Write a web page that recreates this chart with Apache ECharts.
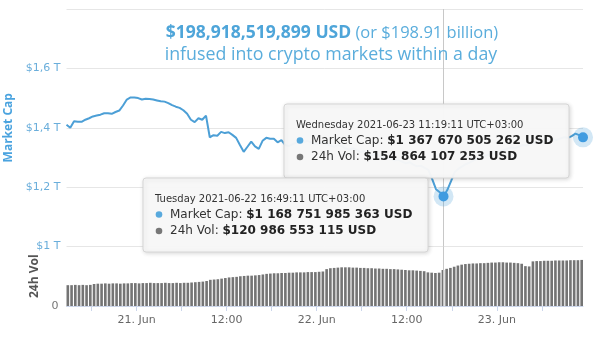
<!DOCTYPE html>
<html><head><meta charset="utf-8">
<script src="https://cdn.jsdelivr.net/npm/echarts@6/dist/echarts.min.js"></script>
<style>html,body{margin:0;padding:0;background:#fff}#c{width:597px;height:342px}</style>
</head><body><div id="c"></div>
<script>
// ---- data ----
const startTime = Date.UTC(2021, 5, 20, 14, 49, 11); // times shown as UTC+03:00 wall clock
const stepMinutes = 30;
const monthName = 'Jun';
const weekDays = ['Sunday','Monday','Tuesday','Wednesday','Thursday','Friday','Saturday'];
// market cap, trillions USD
const marketCapT = [
1.410,1.400,1.422,1.420,1.420,1.427,1.432,1.438,1.441,1.444,
1.449,1.449,1.447,1.453,1.458,1.475,1.495,1.502,1.502,1.500,
1.495,1.498,1.497,1.495,1.492,1.489,1.488,1.483,1.476,1.471,
1.467,1.459,1.447,1.427,1.419,1.432,1.427,1.441,1.368,1.375,
1.373,1.386,1.382,1.385,1.376,1.366,1.342,1.319,1.336,1.353,
1.337,1.329,1.356,1.366,1.363,1.363,1.351,1.358,1.342,
1.338,1.345,1.350,1.347,1.352,1.356,1.350,1.344,1.348,1.352,
1.346,1.340,1.336,1.342,1.338,1.330,1.326,1.331,1.325,1.318,
1.322,1.315,1.308,1.312,1.305,1.298,1.302,1.296,1.290,1.293,
1.286,1.280,1.284,1.276,1.270,1.272,1.265,
1.258,1.227,1.193,1.183,1.168751985363,1.190,1.220,1.251,
1.262,1.270,1.278,1.283,1.290,1.296,1.300,1.305,1.310,1.316,
1.320,1.318,1.325,1.330,1.334,1.331,1.337,1.342,1.340,1.346,
1.350,1.353,1.349,1.355,1.358,1.362,1.359,1.364,1.368,1.366,
1.372,1.380,1.375,1.367670505262
];
// 24h volume, billions USD
const volumeB = [
70,70,71,70,71,70,71,
74,75,75,76,75,76,76,75,76,76,
77,77,76,77,77,78,77,77,77,78,77,77,78,77,78,78,79,
80,81,82,84,
88,89,90,92,94,
96,97,98,
100,101,102,102,103,104,106,
108,109,110,110,111,111,112,112,113,
113,113,114,114,
114,115,116,124,127,128,
129,130,130,130,129,129,128,
128,127,127,126,126,125,125,124,124,123,122,121,120,120,119,118,117,
113,112,111,112,
120.986553115,
125,128,132,
136,139,141,142,143,143,144,144,145,
146,146,147,147,146,146,145,144,142,
134,133,
150,151,151,152,152,152,153,153,153,153,154,154,154,
154.864107253
];
const hoverIdx = [100, 137];
const mcapTicks = [1.0, 1.2, 1.4, 1.6, 1.8];
const titleBold = '$198,918,519,899 USD';
const titleRest = ' (or $198.91 billion)';
const titleLine2 = 'infused into crypto markets within a day';

// ---- build ----
const times = marketCapT.map((_, i) => startTime + i * stepMinutes * 60000);
const capData = times.map((t, i) => [t, marketCapT[i]]);
const volData = times.map((t, i) => [t, volumeB[i]]);
const pad = n => String(n).padStart(2, '0');
function spaced(n) { return String(Math.round(n)).replace(/\B(?=(\d{3})+(?!\d))/g, ' '); }
function header(t) {
  const d = new Date(t);
  return weekDays[d.getUTCDay()] + ' ' + d.getUTCFullYear() + '-' + pad(d.getUTCMonth() + 1) + '-' + pad(d.getUTCDate()) +
    ' ' + pad(d.getUTCHours()) + ':' + pad(d.getUTCMinutes()) + ':' + pad(d.getUTCSeconds()) + ' UTC+03:00';
}
function xLabel(v) {
  const d = new Date(v);
  if (d.getUTCMinutes() !== 0 || d.getUTCSeconds() !== 0) return '';
  const h = d.getUTCHours();
  if (h === 0) return d.getUTCDate() + '. ' + monthName;
  if (h === 12) return '12:00';
  return '';
}
function capLabel(v) {
  const r = Math.round(v * 10) / 10;
  const s = Number.isInteger(r) ? String(r) : r.toFixed(1).replace('.', ',');
  return '$' + s + ' T';
}

const FONT = 'DejaVu Sans';
const chart = echarts.init(document.getElementById('c'), null, { renderer: 'canvas' });
const lineColor = '#4c9fd6';
const TZ = 100;

function tipBox(i, bx, by) {
  return {
    type: 'group', x: bx, y: by, z: TZ,
    children: [
      { type: 'rect', z: TZ, shape: { x: 0, y: 0, width: 285, height: 74, r: 3 },
        style: { fill: 'rgba(248,248,248,0.97)', stroke: '#d6d6d6', lineWidth: 1,
                 shadowBlur: 4, shadowColor: 'rgba(0,0,0,0.15)', shadowOffsetX: 1, shadowOffsetY: 1 } },
      { type: 'text', z: TZ + 1, x: 12, y: 21.5,
        style: { text: header(times[i]), font: '10px "' + FONT + '"', fill: '#333', verticalAlign: 'middle' } },
      { type: 'circle', z: TZ + 1, shape: { cx: 16, cy: 36.5, r: 3.3 }, style: { fill: '#58a9dd' } },
      { type: 'text', z: TZ + 1, x: 27, y: 36.5,
        style: { text: 'Market Cap: {b|$' + spaced(marketCapT[i] * 1e12) + ' USD}', font: '12px "' + FONT + '"', fill: '#333',
                 verticalAlign: 'middle',
                 rich: { b: { fontWeight: 'bold', fontSize: 12, fontFamily: FONT, fill: '#222' } } } },
      { type: 'circle', z: TZ + 1, shape: { cx: 16, cy: 53, r: 3.3 }, style: { fill: '#777' } },
      { type: 'text', z: TZ + 1, x: 27, y: 53,
        style: { text: '24h Vol: {b|$' + spaced(volumeB[i] * 1e9) + ' USD}', font: '12px "' + FONT + '"', fill: '#333',
                 verticalAlign: 'middle',
                 rich: { b: { fontWeight: 'bold', fontSize: 12, fontFamily: FONT, fill: '#222' } } } }
    ]
  };
}

const markPts = [];
hoverIdx.forEach(i => {
  markPts.push({ coord: [times[i], marketCapT[i]], symbolSize: 20, itemStyle: { color: 'rgba(76,159,214,0.25)' } });
  markPts.push({ coord: [times[i], marketCapT[i]], symbolSize: 10, itemStyle: { color: '#3f9be0' } });
});

const option = {
  useUTC: true,
  animation: false,
  backgroundColor: '#fff',
  grid: [
    { left: 66.5, right: 14, top: 9, bottom: 95.5, containLabel: false, outerBoundsMode: 'none' },
    { left: 66.5, right: 14, top: 246.5, bottom: 36, containLabel: false, outerBoundsMode: 'none' }
  ],
  xAxis: [
    { type: 'time', gridIndex: 0, min: times[0], max: times[times.length - 1], show: false },
    { type: 'time', gridIndex: 1, min: times[0], max: times[times.length - 1],
      minInterval: 12 * 3600000, maxInterval: 12 * 3600000,
      axisLine: { lineStyle: { color: '#ccd6eb' } },
      axisTick: { length: 5, lineStyle: { color: '#ccd6eb' } },
      splitLine: { show: false },
      axisLabel: { formatter: xLabel, color: '#666', fontSize: 11, fontFamily: FONT, margin: 9,
                   showMinLabel: false, showMaxLabel: false } }
  ],
  yAxis: [
    { type: 'value', gridIndex: 0, min: mcapTicks[0], max: mcapTicks[mcapTicks.length - 1], interval: 0.2,
      name: 'Market Cap', nameLocation: 'middle', nameGap: 49,
      nameTextStyle: { color: '#4aa3df', fontWeight: 'bold', fontSize: 12, fontFamily: 'Open Sans' },
      axisLine: { show: false }, axisTick: { show: false },
      axisLabel: { formatter: capLabel, color: '#6aaedb', fontSize: 11, fontFamily: FONT, margin: 6, showMaxLabel: false },
      splitLine: { lineStyle: { color: '#e6e6e6' } } },
    { type: 'value', gridIndex: 1, min: 0, max: 200,
      name: '24h Vol', nameLocation: 'middle', nameGap: 23,
      nameTextStyle: { color: '#555', fontWeight: 'bold', fontSize: 12, fontFamily: 'Open Sans' },
      axisLine: { show: false }, axisTick: { show: false },
      axisLabel: { formatter: v => (v === 0 ? '0' : ''), color: '#777', fontSize: 11, fontFamily: FONT, margin: 8 },
      splitLine: { show: false } }
  ],
  series: [
    { type: 'bar', xAxisIndex: 1, yAxisIndex: 1, data: volData, barWidth: '70%',
      itemStyle: { color: '#747474' }, silent: true,
      markLine: { silent: true, symbol: ['none', 'none'], label: { show: false },
                  lineStyle: { color: '#c8c8c8', width: 1, type: 'solid' },
                  data: [{ xAxis: times[hoverIdx[0]] }] } },
    { type: 'line', xAxisIndex: 0, yAxisIndex: 0, data: capData, showSymbol: false,
      lineStyle: { color: lineColor, width: 2 }, itemStyle: { color: lineColor }, silent: true,
      markLine: { silent: true, symbol: ['none', 'none'], label: { show: false },
                  lineStyle: { color: '#c8c8c8', width: 1, type: 'solid' },
                  data: [{ xAxis: times[hoverIdx[0]] }] },
      markPoint: { symbol: 'circle', label: { show: false }, silent: true, data: markPts } }
  ],
  graphic: [
    { type: 'text', x: 332, y: 33, z: 15,
      style: { text: '{b|' + titleBold + '}{n|' + titleRest + '}', textAlign: 'center', verticalAlign: 'middle',
               font: '16.5px "Open Sans"', fill: '#4ea5d9',
               rich: { b: { fontWeight: 'bold', fontSize: 17.5, fontFamily: 'Open Sans', fill: '#4ea5d9' },
                       n: { fontSize: 16.5, fontFamily: 'Open Sans', fill: '#5aaddc' } } } },
    { type: 'text', x: 331, y: 55, z: 15,
      style: { text: titleLine2, textAlign: 'center', verticalAlign: 'middle', font: '17.8px "Open Sans"', fill: '#5aaddc' } },
    tipBox(hoverIdx[1], 284, 104),
    tipBox(hoverIdx[0], 143, 178)
  ]
};
chart.setOption(option);
</script></body></html>
